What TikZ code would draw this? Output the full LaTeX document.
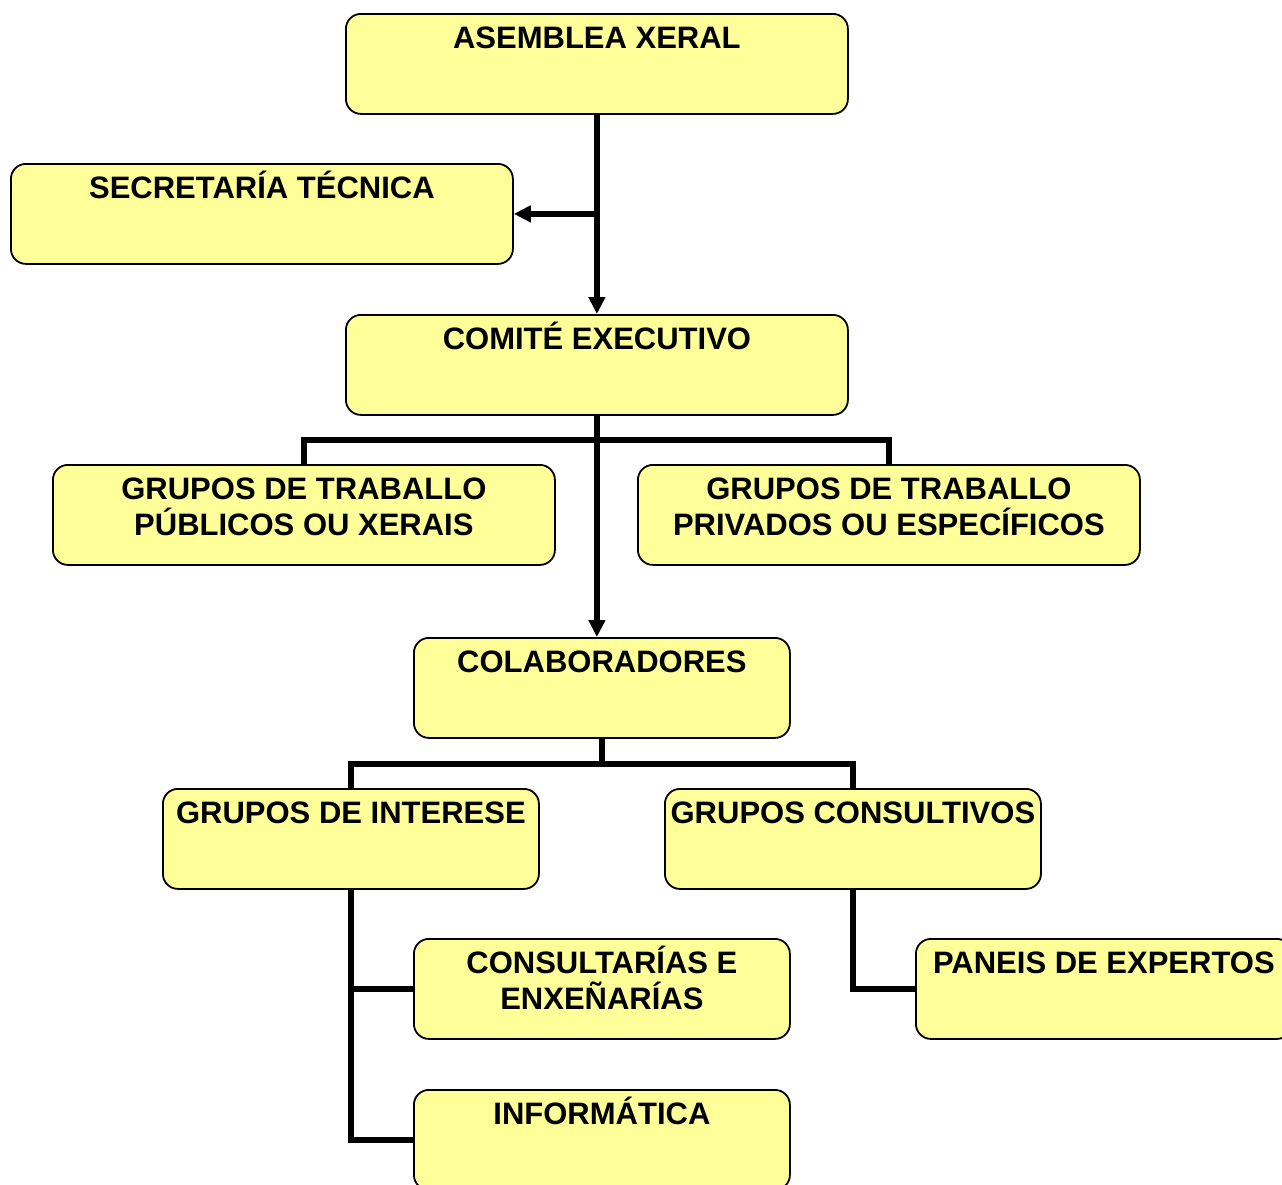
\documentclass[tikz,border=0pt]{standalone}
\usepackage{fontspec}
\setmainfont{Liberation Sans}
\usetikzlibrary{arrows.meta}
\definecolor{boxyellow}{HTML}{FFFF99}
\begin{document}
\begin{tikzpicture}[x=1pt,y=-1pt,
  box/.style={draw=black, line width=1.8pt, fill=boxyellow, rounded corners=15pt,
    minimum height=100pt, anchor=north west, inner sep=0pt},
  wide/.style={minimum width=502pt},
  narrow/.style={minimum width=376pt},
  lbl/.style={font=\fontsize{31pt}{36pt}\selectfont\bfseries, inner sep=0pt, align=center, anchor=base},
  conn/.style={line width=5.5pt, draw=black},
  tip/.style={-{Triangle[length=17pt,width=16pt]}}]
\useasboundingbox (0,0) rectangle (1282,1184);

% boxes
\node[box,wide]   (ax)  at (345,13)  {};
\node[box,wide]   (st)  at (10,163)  {};
\node[box,wide]   (ce)  at (345,314) {};
\node[box,wide]   (gp)  at (52,464)  {};
\node[box,wide]   (gv)  at (637,464) {};
\node[box,narrow] (co)  at (413,637) {};
\node[box,narrow] (gi)  at (162,788) {};
\node[box,narrow] (gc)  at (664,788) {};
\node[box,narrow] (cs)  at (413,938) {};
\node[box,narrow] (inf) at (413,1089) {};
\node[box,narrow] (pe)  at (915,938) {};

% labels (anchor=base of a two-line label is its last line)
\node[lbl] (axt)  at ([yshift=-35pt]ax.north)  {ASEMBLEA XERAL};
\node[lbl] (stt)  at ([yshift=-35pt]st.north)  {SECRETARÍA TÉCNICA};
\node[lbl] (cet)  at ([yshift=-35pt]ce.north)  {COMITÉ EXECUTIVO};
\node[lbl] (gpt)  at ([yshift=-71pt]gp.north)  {GRUPOS DE TRABALLO\\PÚBLICOS OU XERAIS};
\node[lbl] (gvt)  at ([yshift=-71pt]gv.north)  {GRUPOS DE TRABALLO\\PRIVADOS OU ESPECÍFICOS};
\node[lbl] (cot)  at ([yshift=-35pt]co.north)  {COLABORADORES};
\node[lbl] (git)  at ([yshift=-35pt]gi.north)  {GRUPOS DE INTERESE};
\node[lbl] (gct)  at ([yshift=-35pt]gc.north)  {GRUPOS CONSULTIVOS};
\node[lbl] (cst)  at ([yshift=-71pt]cs.north)  {CONSULTARÍAS E\\ENXEÑARÍAS};
\node[lbl] (inft) at ([yshift=-35pt]inf.north) {INFORMÁTICA};
\node[lbl] (pet)  at ([yshift=-35pt]pe.north)  {PANEIS DE EXPERTOS};

% connectors
\coordinate (bar1) at (ce.south |- 0,440);
\coordinate (bar2) at (co.south |- 0,764);
\draw[conn,tip] (ax.south) -- (ce.north);
\draw[conn,tip] (ax.south |- st.east) -- (st.east);
\draw[conn,tip] (ce.south) -- (ce.south |- co.north);
\draw[conn] (gp.north) |- (bar1) -| (gv.north);
\draw[conn] (co.south) -- (bar2);
\draw[conn] (gi.north) |- (bar2) -| (gc.north);
\draw[conn] (gi.south) |- (inf.west);
\draw[conn] (gi.south |- cs.west) -- (cs.west);
\draw[conn] (gc.south) |- (pe.west);
\end{tikzpicture}
\end{document}
